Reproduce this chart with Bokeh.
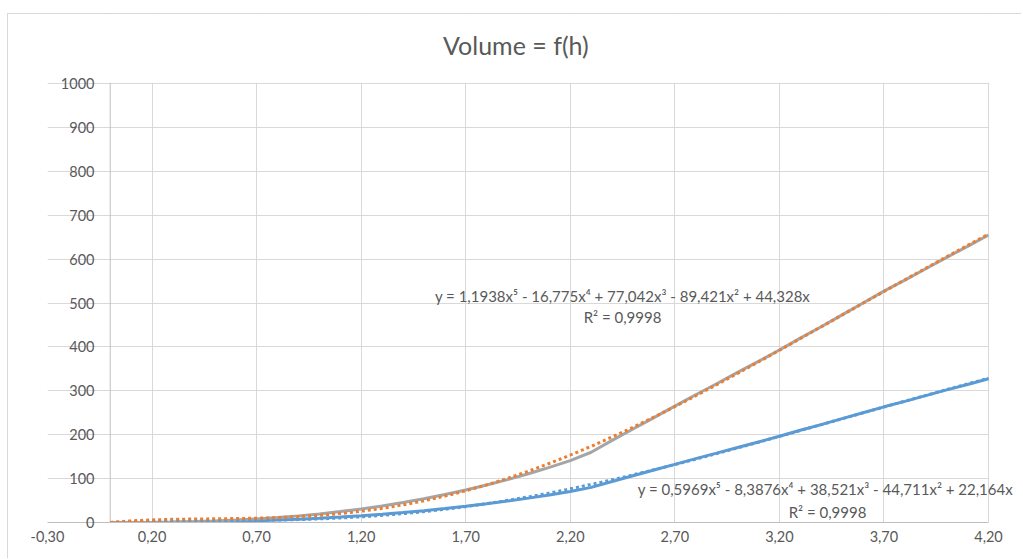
import numpy as np
from bokeh.plotting import figure
from bokeh.models import Range1d, FixedTicker, CustomJSTickFormatter, Label, Span, BoxAnnotation
from bokeh.embed import file_html
from bokeh.resources import INLINE

# ---- data ----
h_values = [0.0, 0.1, 0.2, 0.3, 0.4, 0.5, 0.6, 0.7, 0.8, 0.9,
            1.0, 1.1, 1.2, 1.3, 1.4, 1.5, 1.6, 1.7, 1.8, 1.9,
            2.0, 2.1, 2.2, 2.3, 2.4, 2.5, 2.6, 2.7, 2.8, 2.9,
            3.0, 3.1, 3.2, 3.3, 3.4, 3.5, 3.6, 3.7, 3.8, 3.9,
            4.0, 4.1, 4.2]
volume_upper = [0.0, 0.1, 0.4, 1.0, 2.0, 3.5, 5.5, 8.0, 11.2, 15.1,
                19.6, 24.9, 31.0, 37.8, 45.6, 54.1, 63.6, 74.0, 85.4, 97.7,
                111.1, 125.5, 141.0, 160.0, 187.0, 213.0, 239.0, 265.0, 291.0, 316.0,
                342.0, 367.0, 393.0, 420.0, 446.0, 473.0, 500.0, 527.0, 552.0, 578.0,
                604.0, 629.0, 655.0]
volume_lower = [0.0, 0.05, 0.2, 0.5, 1.0, 1.7, 2.7, 4.0, 5.6, 7.5,
                9.8, 12.4, 15.5, 18.9, 22.8, 27.0, 31.8, 37.0, 42.7, 48.8,
                55.5, 62.7, 70.5, 80.0, 93.5, 106.5, 119.5, 132.5, 145.5, 158.0,
                171.0, 183.5, 196.5, 210.0, 223.0, 236.5, 250.0, 263.5, 276.0, 289.0,
                302.0, 314.5, 327.5]
# polynomial trendline coefficients shown on the chart (x^5 ... x^0)
trend_upper_coef = [1.1938, -16.775, 77.042, -89.421, 44.328, 0.0]
trend_lower_coef = [0.5969, -8.3876, 38.521, -44.711, 22.164, 0.0]

x_ticks = [-0.3, 0.2, 0.7, 1.2, 1.7, 2.2, 2.7, 3.2, 3.7, 4.2]
y_ticks = [0, 100, 200, 300, 400, 500, 600, 700, 800, 900, 1000]

title_text = "Volume = f(h)"
eq_upper = "y = 1,1938x\u2075 - 16,775x\u2074 + 77,042x\u00b3 - 89,421x\u00b2 + 44,328x"
r2_upper = "R\u00b2 = 0,9998"
eq_lower = "y = 0,5969x\u2075 - 8,3876x\u2074 + 38,521x\u00b3 - 44,711x\u00b2 + 22,164x"
r2_lower = "R\u00b2 = 0,9998"

# ---- styles / layout ----
FONT = "Lato"
TXT = "#595959"
BLUE = "#5B9BD5"
GRAY = "#A5A5A5"
ORANGE = "#ED7D31"
X_MIN, X_MAX = x_ticks[0], x_ticks[-1]
Y_MIN, Y_MAX = y_ticks[0], y_ticks[-1]
# plot area is 941 x 439 px; the frame is extended to the canvas right/top edges so
# the title and the trendline label can sit outside the plot area
X_FRAME_END = X_MIN + 975 / (941 / (X_MAX - X_MIN))
Y_FRAME_END = Y_MIN + 508 / (439 / (Y_MAX - Y_MIN))

p = figure(width=1014, height=545, output_backend="svg", toolbar_location=None,
           x_range=Range1d(X_MIN, X_FRAME_END), y_range=Range1d(Y_MIN, Y_FRAME_END),
           min_border_left=39, min_border_right=0, min_border_top=0, min_border_bottom=37,
           margin=(13, 0, 0, 7),
           styles={"border-top": "1px solid #d9d9d9", "border-left": "1px solid #d9d9d9"})
p.outline_line_color = None
p.background_fill_color = "white"
p.border_fill_color = "white"

# axes
p.xaxis.ticker = FixedTicker(ticks=x_ticks)
p.xaxis.formatter = CustomJSTickFormatter(code="return tick.toFixed(2).replace('.', ',');")
p.xaxis.bounds = (X_MIN, X_MAX)
p.yaxis.ticker = FixedTicker(ticks=y_ticks)
for ax in (p.xaxis, p.yaxis):
    ax.axis_line_color = "#BFBFBF"
    ax.axis_line_width = 1
    ax.major_tick_line_color = None
    ax.minor_tick_line_color = None
    ax.major_tick_out = 0
    ax.major_tick_in = 0
    ax.major_label_text_font = FONT
    ax.major_label_text_font_size = "14.5px"
    ax.major_label_text_color = TXT
p.yaxis.axis_line_color = None
p.xaxis.major_label_standoff = 8
p.yaxis.major_label_standoff = -47

p.xgrid.grid_line_color = "#D9D9D9"
p.ygrid.grid_line_color = "#D9D9D9"

# vertical value axis crossing at x = 0
p.add_layout(Span(location=0, dimension="height", line_color="#BFBFBF", line_width=1,
                  level="underlay"))
# hide grid outside the plot area (right of x max, above y max)
p.add_layout(BoxAnnotation(left=X_MAX + 0.003, fill_color="white", fill_alpha=1.0,
                           line_color=None, level="underlay"))
p.add_layout(BoxAnnotation(bottom=Y_MAX + 1.5, fill_color="white", fill_alpha=1.0,
                           line_color=None, level="underlay"))

# series
p.line(h_values, volume_lower, line_color=BLUE, line_width=3)
p.line(h_values, volume_upper, line_color=GRAY, line_width=3)

# trendlines from the displayed polynomial coefficients
xt = np.linspace(h_values[0], h_values[-1], 400)
p.line(xt, np.polyval(trend_lower_coef, xt), line_color=BLUE, line_width=3,
       line_dash="3 3")
p.line(xt, np.polyval(trend_upper_coef, xt), line_color=ORANGE, line_width=3,
       line_dash="3 3")

# chart title
p.add_layout(Label(x=1.94, y=1087, text=title_text, text_font=FONT, text_font_size="25px",
                   text_color=TXT, text_align="center", text_baseline="middle"))

# trendline labels
def add_label(x, y, text):
    p.add_layout(Label(x=x, y=y, text=text, text_font=FONT, text_font_size="15px",
                       text_color=TXT, text_align="center", text_baseline="middle"))

add_label(2.45, 515, eq_upper)
add_label(2.45, 467, r2_upper)
add_label(3.42, 77, eq_lower)
add_label(3.43, 23, r2_lower)

open("out.html", "w").write(file_html(p, INLINE))
